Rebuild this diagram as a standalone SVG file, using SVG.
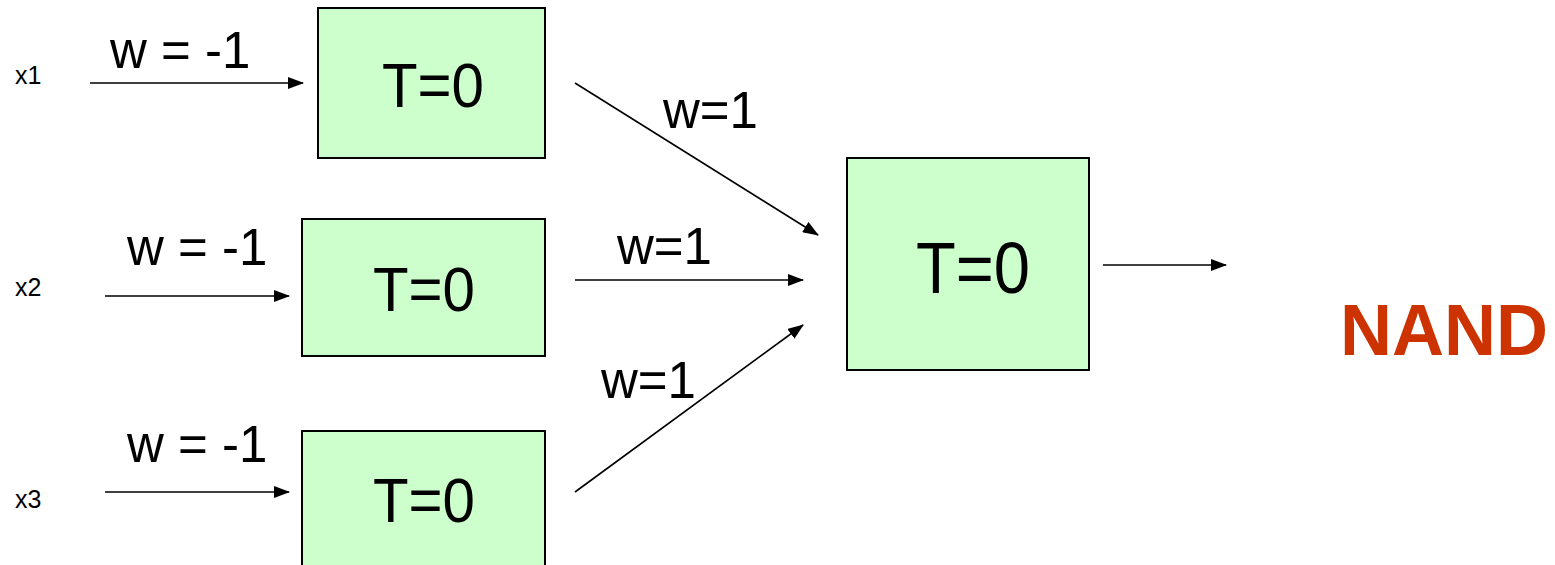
<svg xmlns="http://www.w3.org/2000/svg" width="1555" height="565" viewBox="0 0 1555 565">
<style>
.box{fill:#CCFFCC;stroke:#000;stroke-width:2}
.t{font-family:"Liberation Sans",Arial,sans-serif;fill:#000}
.big{font-size:63px;text-anchor:middle}
.w{font-size:51px}
.x{font-size:25px}
.c{stroke:#000;stroke-width:1.6;fill:none;marker-end:url(#ah)}
</style>
<defs>
<marker id="ah" markerWidth="16" markerHeight="12" refX="15" refY="6" orient="auto" markerUnits="userSpaceOnUse">
<path d="M0,0 L16,6 L0,12 Z" fill="#000"/>
</marker>
</defs>
<rect width="1555" height="565" fill="#fff"/>
<g id="inputs">
<text class="t x" x="15" y="84">x1</text>
<text class="t x" x="15" y="296">x2</text>
<text class="t x" x="15" y="508">x3</text>
</g>
<g id="n1">
<rect class="box" x="318" y="8" width="227" height="150"/>
<text class="t big" x="433" y="107" textLength="102" lengthAdjust="spacingAndGlyphs">T=0</text>
</g>
<g id="n2">
<rect class="box" x="302" y="219" width="243" height="137"/>
<text class="t big" x="424" y="311" textLength="102" lengthAdjust="spacingAndGlyphs">T=0</text>
</g>
<g id="n3">
<rect class="box" x="302" y="431" width="243" height="150"/>
<text class="t big" x="424" y="522" textLength="102" lengthAdjust="spacingAndGlyphs">T=0</text>
</g>
<g id="out">
<rect class="box" x="847" y="158" width="242" height="212"/>
<text class="t big" x="973" y="293" style="font-size:72px" textLength="114" lengthAdjust="spacingAndGlyphs">T=0</text>
</g>
<g id="connectors">
<line class="c" x1="90" y1="83" x2="303" y2="83"/>
<line class="c" x1="105" y1="296" x2="289" y2="296"/>
<line class="c" x1="105" y1="492" x2="289" y2="492"/>
<line class="c" x1="575" y1="83" x2="818" y2="235"/>
<line class="c" x1="575" y1="280" x2="803" y2="280"/>
<line class="c" x1="575" y1="492" x2="803" y2="325"/>
<line class="c" x1="1103" y1="265" x2="1226" y2="265"/>
</g>
<g id="labels">
<text class="t w" x="110" y="68">w = -1</text>
<text class="t w" x="127" y="265">w = -1</text>
<text class="t w" x="127" y="462">w = -1</text>
<text class="t w" x="663" y="128">w=1</text>
<text class="t w" x="617" y="264">w=1</text>
<text class="t w" x="601" y="398">w=1</text>
<text class="t" x="1340" y="355" style="font-size:72px;font-weight:bold;fill:#CC3300">NAND</text>
</g>
</svg>
